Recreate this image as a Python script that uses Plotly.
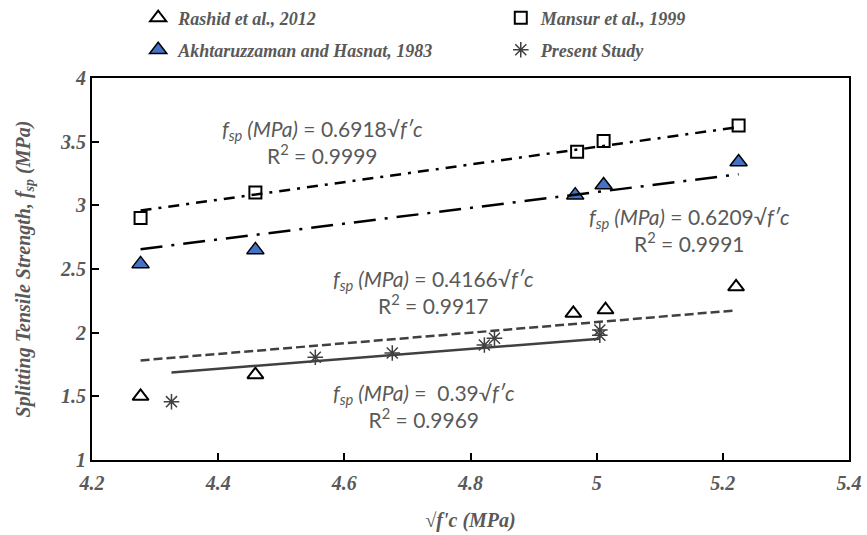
import plotly.graph_objects as go
import numpy as np

# ---- data ----
rashid_x = [4.277, 4.459, 4.963, 5.014, 5.221]
rashid_y = [1.50, 1.67, 2.152, 2.18, 2.36]
mansur_x = [4.277, 4.459, 4.969, 5.011, 5.225]
mansur_y = [2.90, 3.10, 3.42, 3.506, 3.626]
akhtar_x = [4.277, 4.459, 4.966, 5.011, 5.225]
akhtar_y = [2.54, 2.65, 3.08, 3.16, 3.34]
present_x = [4.326, 4.554, 4.676, 4.822, 4.838, 5.005, 5.005]
present_y = [1.458, 1.807, 1.84, 1.903, 1.956, 2.02, 1.98]

coef_mansur = 0.6918
coef_akhtar = 0.6209
coef_rashid = 0.4166
coef_present = 0.39
r2_mansur = "0.9999"
r2_akhtar = "0.9991"
r2_rashid = "0.9917"
r2_present = "0.9969"

x_ticks = [4.2, 4.4, 4.6, 4.8, 5.0, 5.2, 5.4]
x_tick_labels = ["4.2", "4.4", "4.6", "4.8", "5", "5.2", "5.4"]
y_ticks = [1, 1.5, 2, 2.5, 3, 3.5, 4]
y_tick_labels = ["1", "1.5", "2", "2.5", "3", "3.5", "4"]

GREY = "#595959"
SERIF = "Liberation Serif"
SANS = "Lato"

fig = go.Figure()

def trend(xs, c):
    xx = np.array([min(xs), max(xs)])
    return xx, c * xx

# markers
fig.add_trace(go.Scatter(x=rashid_x, y=rashid_y, mode="markers", name="Rashid et al., 2012",
                         legend="legend",
                         marker=dict(symbol="triangle-up", size=14, color="white",
                                     line=dict(color="black", width=2))))
fig.add_trace(go.Scatter(x=mansur_x, y=mansur_y, mode="markers", name="Mansur et al., 1999",
                         legend="legend2",
                         marker=dict(symbol="square", size=12, color="white",
                                     line=dict(color="black", width=2))))
fig.add_trace(go.Scatter(x=akhtar_x, y=akhtar_y, mode="markers", name="Akhtaruzzaman and Hasnat, 1983",
                         legend="legend3",
                         marker=dict(symbol="triangle-up", size=15, color="#4472C4",
                                     line=dict(color="black", width=1.5))))
fig.add_trace(go.Scatter(x=present_x, y=present_y, mode="markers", name="Present Study",
                         legend="legend4",
                         marker=dict(symbol="asterisk-open", size=13, color="#404040",
                                     line=dict(color="#404040", width=1.5))))

# trendlines
tx, ty = trend(mansur_x, coef_mansur)
fig.add_trace(go.Scatter(x=tx, y=ty, mode="lines", showlegend=False,
                         line=dict(color="black", width=2.5, dash="11px,7px,3px,7px")))
tx, ty = trend(akhtar_x, coef_akhtar)
fig.add_trace(go.Scatter(x=tx, y=ty, mode="lines", showlegend=False,
                         line=dict(color="black", width=2.5, dash="22px,9px,3px,9px")))
tx, ty = trend(rashid_x, coef_rashid)
fig.add_trace(go.Scatter(x=tx, y=ty, mode="lines", showlegend=False,
                         line=dict(color="#404040", width=2.5, dash="9px,4px")))
tx, ty = trend(present_x, coef_present)
fig.add_trace(go.Scatter(x=tx, y=ty, mode="lines", showlegend=False,
                         line=dict(color="#404040", width=2.5)))

def eq(c, r2):
    return (f"<i>f<sub>sp</sub> (MPa)</i> = {c}√<i>f′c</i><br>R<sup>2</sup> = {r2}")

ann_font = dict(family=SANS, size=21, color=GREY)
annots = [
    (4.565, 3.50, eq("0.6918", r2_mansur)),
    (5.147, 2.807, eq("0.6209", r2_akhtar)),
    (4.742, 2.32, eq("0.4166", r2_rashid)),
    (4.727, 1.424, "<i>f<sub>sp</sub> (MPa)</i> =  0.39√<i>f′c</i><br>R<sup>2</sup> = " + r2_present),
]
for ax_, ay_, t in annots:
    fig.add_annotation(x=ax_, y=ay_, text=t, showarrow=False, font=ann_font,
                       xanchor="center", yanchor="middle", align="center")

tick_font = dict(family=SERIF, size=20, color=GREY, weight="bold", style="italic")
leg_font = dict(family=SERIF, size=18, color=GREY, weight="bold", style="italic")

def leg(x, y):
    return dict(orientation="h", x=x, y=y, xanchor="left", yanchor="middle",
                font=leg_font, bgcolor="rgba(0,0,0,0)", itemwidth=30)

fig.update_layout(
    width=867, height=535,
    margin=dict(l=92, r=18, t=78, b=75, autoexpand=False),
    paper_bgcolor="white", plot_bgcolor="white",
    xaxis=dict(range=[4.2, 5.4], tickvals=x_ticks, ticktext=x_tick_labels,
               showgrid=False, zeroline=False, showline=True, linecolor="black", linewidth=2,
               mirror=True, ticks="inside", ticklen=7, tickwidth=2, tickcolor="black",
               tickfont=tick_font, ticklabelstandoff=4,
               title=dict(text="√<i>f'c (MPa)</i>", font=dict(family=SERIF, size=20, color=GREY,
                                                        weight="bold", style="italic"),
                          standoff=20)),
    yaxis=dict(range=[1, 4], tickvals=y_ticks, ticktext=y_tick_labels,
               showgrid=False, zeroline=False, showline=True, linecolor="black", linewidth=2,
               mirror=True, ticks="inside", ticklen=7, tickwidth=2, tickcolor="black",
               tickfont=tick_font,
               title=dict(text="<i>Splitting Tensile Strength, f<sub>sp</sub> (MPa)</i>",
                          font=dict(family=SERIF, size=20, color=GREY, weight="bold", style="italic"),
                          standoff=24)),
    legend=leg(0.061, 1.157),
    legend2=leg(0.540, 1.157),
    legend3=leg(0.061, 1.073),
    legend4=leg(0.540, 1.073),
)

fig.write_html("out.html", config={"displayModeBar": False},
               post_script="document.body.style.margin='0px';")
